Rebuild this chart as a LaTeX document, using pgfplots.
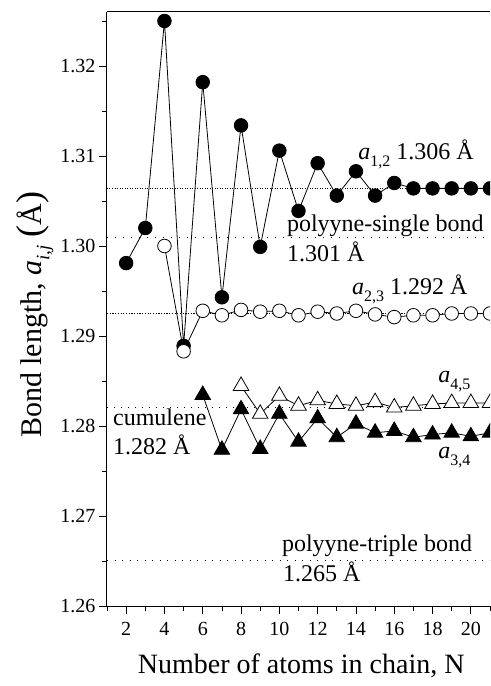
\documentclass[border=0pt]{standalone}
\usepackage{fontspec}
\setmainfont{Liberation Serif}
\usepackage{pgfplots}
\usepackage{pgfplotstable}
\pgfplotsset{compat=1.18}
\newcommand{\sub}[1]{\raisebox{-7pt}{\fontsize{16}{16}\selectfont #1}}
\newcommand{\ysub}[1]{\raisebox{-8pt}{\fontsize{19}{19}\selectfont #1}}
\newcommand{\ann}{\fontsize{24}{28}\selectfont}

\pgfplotstableread{
N v
2 1.2981
3 1.3020
4 1.3250
5 1.2889
6 1.3182
7 1.2943
8 1.3134
9 1.2999
10 1.3106
11 1.3039
12 1.3092
13 1.3056
14 1.3083
15 1.3056
16 1.3070
17 1.3064
18 1.3064
19 1.3064
20 1.3064
21 1.3064
}\atwelve

\pgfplotstableread{
N v
4 1.3000
5 1.2883
6 1.2928
7 1.2923
8 1.2929
9 1.2927
10 1.2928
11 1.2923
12 1.2927
13 1.2925
14 1.2928
15 1.2924
16 1.2921
17 1.2923
18 1.2923
19 1.2925
20 1.2925
21 1.2925
}\atwothree

\pgfplotstableread{
N v
6 1.28345
7 1.27735
8 1.28185
9 1.27745
10 1.28135
11 1.27825
12 1.28085
13 1.27875
14 1.28025
15 1.27925
16 1.27945
17 1.27875
18 1.27905
19 1.27925
20 1.27885
21 1.27925
}\athreefour

\pgfplotstableread{
N v
8 1.28445
9 1.28135
10 1.28335
11 1.28225
12 1.28285
13 1.28245
14 1.28225
15 1.28265
16 1.28205
17 1.28225
18 1.28245
19 1.28255
20 1.28255
21 1.28255
}\afourfive

\begin{document}
\begin{tikzpicture}
\begin{axis}[
  scale only axis, width=383pt, height=594pt,
  xmin=1, xmax=21, ymin=1.26, ymax=1.326,
  axis x line*=bottom, axis y line*=left,
  axis line style={-, line width=1pt},
  xtick={2,4,...,20}, minor xtick={1,3,...,21},
  ytick={1.26,1.27,1.28,1.29,1.30,1.31,1.32},
  minor ytick={1.265,1.275,1.285,1.295,1.305,1.315,1.325},
  tick align=outside, major tick length=8pt, minor tick length=5pt,
  every tick/.style={black, line width=0.8pt},
  scaled y ticks=false,
  yticklabel style={/pgf/number format/fixed, /pgf/number format/fixed zerofill, /pgf/number format/precision=2},
  xticklabel style={yshift=-5pt},
  /pgf/number format/assume math mode=true,
  tick label style={font=\fontsize{20}{24}\selectfont},
  label style={font=\fontsize{28}{32}\selectfont},
  xlabel={Number of atoms in chain, N},
  xlabel style={at={(axis description cs:0.507,0)}, anchor=base, yshift=-67pt},
  ylabel={\fontsize{30}{34}\selectfont Bond length, \textit{a}\ysub{\textit{i,j}}\ {\fontsize{36}{36}\selectfont(}Å{\fontsize{36}{36}\selectfont)}},
  ylabel style={at={(axis description cs:-0.188,0.49)}, anchor=center},
  clip marker paths=true,
]
% reference lines
\addplot[forget plot, line width=0.8pt, dash pattern=on 1pt off 1.5pt] coordinates {(1,1.3064) (21,1.3064)};
\addplot[forget plot, line width=0.8pt, dash pattern=on 1pt off 7pt] coordinates {(1,1.3010) (21,1.3010)};
\addplot[forget plot, line width=0.8pt, dash pattern=on 1.2pt off 1.5pt] coordinates {(1,1.2925) (21,1.2925)};
\addplot[forget plot, line width=0.8pt, dash pattern=on 1pt off 6pt] coordinates {(1,1.2821) (21,1.2821)};
\addplot[forget plot, line width=0.8pt, dash pattern=on 1pt off 6.5pt] coordinates {(1,1.2651) (21,1.2651)};

% series
\addplot[black, line width=0.8pt, mark=*, mark size=6.8pt, mark options={fill=black, solid}] table[x=N,y=v] {\atwelve};
\addplot[black, line width=0.8pt, mark=*, mark size=6.8pt, mark options={fill=white, draw=black, solid}] table[x=N,y=v] {\atwothree};
\addplot[black, line width=0.8pt, mark=triangle*, mark size=9pt, mark options={fill=black, solid}] table[x=N,y=v] {\athreefour};
\addplot[black, line width=0.8pt, mark=triangle*, mark size=9pt, mark options={fill=white, draw=black, solid}] table[x=N,y=v] {\afourfive};

% annotations
\node[anchor=base west, inner sep=0pt, font=\ann] at (axis cs:14.11,1.30956) {\textit{a}\sub{1,2}\ 1.306 Å};
\node[anchor=base west, inner sep=0pt, font=\ann] at (axis cs:10.39,1.30159) {polyyne-single bond};
\node[anchor=base west, inner sep=0pt, font=\ann] at (axis cs:10.39,1.29826) {1.301 Å};
\node[anchor=base west, inner sep=0pt, font=\ann] at (axis cs:13.79,1.29456) {\textit{a}\sub{2,3}\ 1.292 Å};
\node[anchor=base west, inner sep=0pt, font=\ann] at (axis cs:18.29,1.28478) {\textit{a}\sub{4,5}};
\node[anchor=base west, inner sep=0pt, font=\ann] at (axis cs:18.29,1.27644) {\textit{a}\sub{3,4}};
\node[anchor=base west, inner sep=0pt, font=\ann] at (axis cs:1.31,1.28011) {cumulene};
\node[anchor=base west, inner sep=0pt, font=\ann] at (axis cs:1.31,1.27678) {1.282 Å};
\node[anchor=base west, inner sep=0pt, font=\ann] at (axis cs:10.13,1.26603) {polyyne-triple bond};
\node[anchor=base west, inner sep=0pt, font=\ann] at (axis cs:10.18,1.2627) {1.265 Å};

\coordinate (SW) at (rel axis cs:0,0);
\coordinate (NW) at (rel axis cs:0,1);
\coordinate (NE) at (rel axis cs:1,1);
\end{axis}
\draw[line width=1pt] (NW) -- (NE);
\pgfresetboundingbox
\path[use as bounding box] ([xshift=-107pt,yshift=-80pt]SW) rectangle ([yshift=12pt]NE);
\end{tikzpicture}
\end{document}
